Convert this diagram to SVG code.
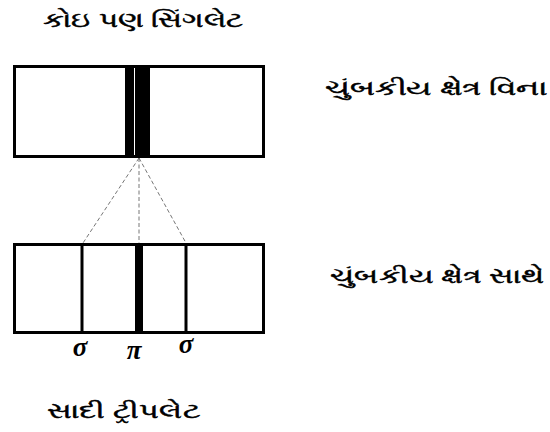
<svg xmlns="http://www.w3.org/2000/svg" width="550" height="432" viewBox="0 0 550 432">
<style>
.box{fill:#fff;stroke:#000;stroke-width:3}
.line{stroke:#000;stroke-width:3}
.dash{stroke:#666;stroke-width:0.9;stroke-dasharray:4,2.5;fill:none}
.lbl{font-family:"Noto Sans","DejaVu Sans",sans-serif;font-weight:normal;font-size:21px;fill:#000;stroke:#000;stroke-width:0.5}
.greek{font-family:"Liberation Serif","DejaVu Serif",serif;font-weight:bold;font-style:italic;font-size:27px;fill:#000;text-anchor:middle}
</style>
<rect width="550" height="432" fill="#fff"/>
<g id="title-top"><text class="lbl" x="43" y="27" textLength="200" lengthAdjust="spacingAndGlyphs">કોઇ પણ સિંગલેટ</text></g>
<g id="singlet">
<rect class="box" x="14.5" y="66.5" width="249" height="90"/>
<rect x="125" y="66" width="9" height="91" fill="#000"/>
<rect x="135" y="66" width="15" height="91" fill="#000"/>
</g>
<g id="label-without"><text class="lbl" x="325" y="95" textLength="222" lengthAdjust="spacingAndGlyphs">ચુંબકીય ક્ષેત્ર વિના</text></g>
<g id="connectors">
<line class="dash" x1="139" y1="158" x2="83" y2="243"/>
<line class="dash" x1="139" y1="158" x2="139" y2="243"/>
<line class="dash" x1="139" y1="158" x2="186" y2="243"/>
</g>
<g id="triplet">
<rect class="box" x="14.5" y="244.5" width="249" height="88"/>
<line class="line" x1="82" y1="244" x2="82" y2="333"/>
<rect x="135" y="244" width="8" height="89" fill="#000"/>
<line class="line" x1="186" y1="244" x2="186" y2="333"/>
</g>
<g id="label-with"><text class="lbl" x="330" y="283" textLength="214" lengthAdjust="spacingAndGlyphs">ચુંબકીય ક્ષેત્ર સાથે</text></g>
<g id="greek">
<text class="greek" x="80" y="356">σ</text>
<text class="greek" x="134" y="359">π</text>
<text class="greek" x="186" y="353">σ</text>
</g>
<g id="title-bottom"><text class="lbl" x="47" y="418" textLength="153" lengthAdjust="spacingAndGlyphs">સાદી ટ્રીપલેટ</text></g>
</svg>
